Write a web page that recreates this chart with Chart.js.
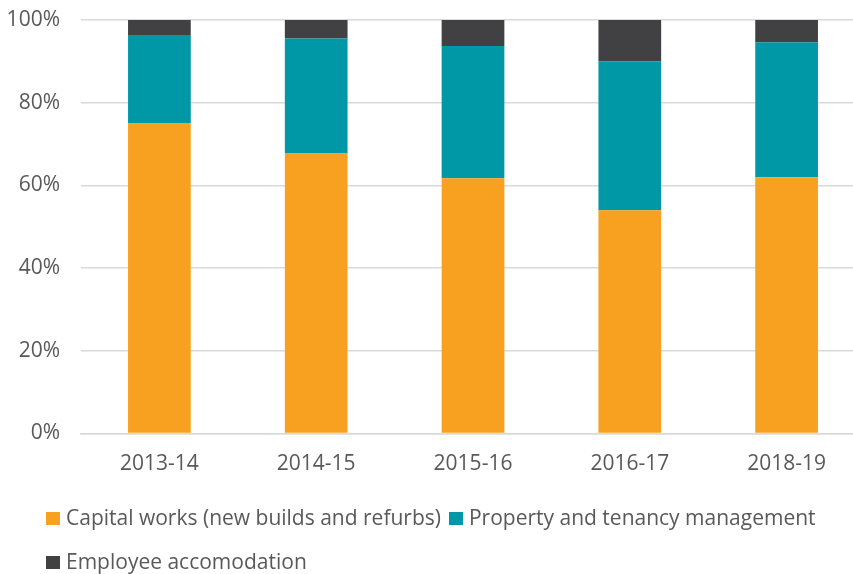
<!DOCTYPE html>
<html>
<head>
<meta charset="utf-8">
<script src="https://cdn.jsdelivr.net/npm/chart.js@4.4.1/dist/chart.umd.min.js"></script>
<style>
  html, body { margin: 0; padding: 0; background: #fff; overflow: hidden; }
  #wrap { width: 865px; height: 574px; }
</style>
</head>
<body>
<div id="wrap"><canvas id="shares" width="865" height="574"></canvas></div>
<script>
  // spend split per year, in percent
  const years = ['2013-14', '2014-15', '2015-16', '2016-17', '2018-19'];
  const capitalWorks = [75.0, 67.7, 61.7, 54.0, 62.0];
  const propertyMgmt = [21.4, 27.8, 32.0, 36.0, 32.6];
  const employeeAccom = [3.6, 4.5, 6.3, 10.0, 5.4];
  const yTicks = [0, 20, 40, 60, 80, 100];

  const seriesNames = ['Capital works (new builds and refurbs)', 'Property and tenancy management', 'Employee accomodation'];
  const seriesColors = ['#F8A01F', '#0097A6', '#414143'];

  const FONT = 'Open Sans';
  const FONT_SIZE = 21;
  const TEXT = '#595959';

  // legend drawn under the axis, Excel style (rows left aligned to the first one)
  const bottomLegend = {
    id: 'bottomLegend',
    afterDraw(chart) {
      const ctx = chart.ctx;
      const box = 14, gap = 6, itemGap = 8;
      ctx.save();
      ctx.font = FONT_SIZE + 'px ' + FONT;
      ctx.textBaseline = 'middle';
      const items = chart.data.datasets.map(d => ({
        label: d.label, color: d.backgroundColor,
        w: box + gap + ctx.measureText(d.label).width
      }));
      const maxW = 853 - 40;
      const rows = [[]];
      let rowW = 0;
      items.forEach(it => {
        const add = (rows[rows.length - 1].length ? itemGap : 0) + it.w;
        if (rowW + add > maxW && rows[rows.length - 1].length) {
          rows.push([it]); rowW = it.w;
        } else {
          rows[rows.length - 1].push(it); rowW += add;
        }
      });
      const firstW = rows[0].reduce((s, it, i) => s + it.w + (i ? itemGap : 0), 0);
      const left = Math.round((853 - firstW) / 2) + 4;
      rows.forEach((row, r) => {
        const cy = 518.5 + r * 44;
        let x = left;
        row.forEach(it => {
          ctx.fillStyle = it.color;
          ctx.fillRect(x, cy - 6.5, box, 13);
          ctx.fillStyle = TEXT;
          ctx.fillText(it.label, x + box + gap, cy + 1);
          x += it.w + itemGap;
        });
      });
      ctx.restore();
    }
  };

  new Chart(document.getElementById('shares'), {
    type: 'bar',
    data: {
      labels: years,
      datasets: [
        { label: seriesNames[0], data: capitalWorks, backgroundColor: seriesColors[0] },
        { label: seriesNames[1], data: propertyMgmt, backgroundColor: seriesColors[1] },
        { label: seriesNames[2], data: employeeAccom, backgroundColor: seriesColors[2] }
      ]
    },
    options: {
      responsive: false,
      animation: false,
      barPercentage: 0.4,
      categoryPercentage: 1,
      layout: { padding: { top: 20, right: 0, bottom: 100, left: 0 } },
      plugins: {
        legend: { display: false },
        tooltip: { enabled: false }
      },
      scales: {
        x: {
          stacked: true,
          grid: { display: false, drawTicks: false },
          border: { color: '#D9D9D9', width: 1.5 },
          ticks: { color: TEXT, font: { family: FONT, size: FONT_SIZE }, padding: 18 },
          afterFit(axis) { axis.height = 40.5; }
        },
        y: {
          stacked: true,
          min: 0,
          max: 100,
          afterBuildTicks(axis) { axis.ticks = yTicks.map(v => ({ value: v })); },
          grid: { color: '#D9D9D9', lineWidth: 1.5, drawTicks: false },
          border: { display: false },
          ticks: {
            color: TEXT,
            font: { family: FONT, size: FONT_SIZE },
            padding: 21,
            callback: v => v + '%'
          },
          afterFit(axis) {
            axis.width = 81;
            axis.paddingTop = 0;
            axis.paddingBottom = 0;
          }
        }
      }
    },
    plugins: [bottomLegend]
  });
</script>
</body>
</html>
